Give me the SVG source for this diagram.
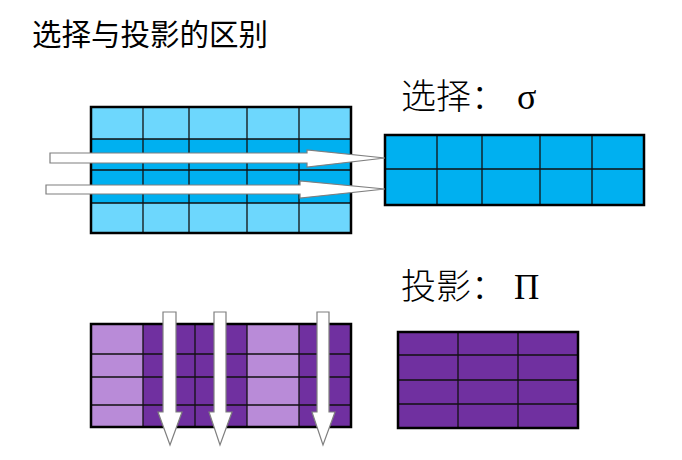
<svg xmlns="http://www.w3.org/2000/svg" width="682" height="460" viewBox="0 0 682 460">
<style>
.cjk{font-family:"Noto Sans CJK SC","Noto Sans CJK JP",sans-serif;fill:#000}
.ser{font-family:"Liberation Serif","DejaVu Serif",serif;fill:#000}
.outer{fill:none;stroke:#000;stroke-width:2.5}
.grid{stroke:#111;stroke-width:1.3;fill:none}
.arr{fill:#fff;stroke:#7f7f7f;stroke-width:1.2}
.lb{fill:#6dd7fd}
.db{fill:#00b0f0}
.lp{fill:#b98bd8}
.dp{fill:#7030a0}
</style>
<rect width="682" height="460" fill="#fff"/>
<text class="cjk" x="32" y="45" font-size="29.5" font-weight="400">选择与投影的区别</text>
<g id="sel-label"><text class="cjk" x="401" y="109" font-size="35" font-weight="300">选择：</text><text class="ser" x="517" y="109" font-size="36">σ</text></g>
<g id="proj-label"><text class="cjk" x="401" y="299" font-size="35" font-weight="300">投影：</text><text class="ser" x="514" y="299" font-size="35">Π</text></g>

<g id="table-sel-src">
<rect class="lb" x="91" y="107" width="260" height="32"/>
<rect class="db" x="91" y="139" width="260" height="64"/>
<rect class="lb" x="91" y="203" width="260" height="30"/>
<path class="grid" d="M143 107V233M189 107V233M247 107V233M299 107V233M91 139H351M91 170H351M91 203H351"/>
<rect class="outer" x="91" y="107" width="260" height="126"/>
</g>

<g id="table-sel-res">
<rect class="db" x="385" y="135" width="259" height="70"/>
<path class="grid" d="M437 135V205M482 135V205M540 135V205M592 135V205M385 169H644"/>
<rect class="outer" x="385" y="135" width="259" height="70"/>
</g>

<g id="table-proj-src">
<rect class="lp" x="91" y="324" width="52" height="103"/>
<rect class="dp" x="143" y="324" width="104" height="103"/>
<rect class="lp" x="247" y="324" width="52" height="103"/>
<rect class="dp" x="299" y="324" width="52" height="103"/>
<path class="grid" d="M143 324V427M195 324V427M247 324V427M299 324V427M91 354H351M91 377H351M91 405H351"/>
<rect class="outer" x="91" y="324" width="260" height="103"/>
</g>

<g id="table-proj-res">
<rect class="dp" x="398" y="332" width="180" height="96"/>
<path class="grid" d="M458 332V428M518 332V428M398 355H578M398 380H578M398 404H578"/>
<rect class="outer" x="398" y="332" width="180" height="96"/>
</g>

<g id="connectors">
<path class="arr" d="M50 153H307V150L385 158L307 167V163H50Z"/>
<path class="arr" d="M46 185H300V181L385 189L300 198V194H46Z"/>
<path class="arr" d="M163 312H176V412H182L170 445L158 412H163Z"/>
<path class="arr" d="M214 312H226V412H232L220 445L209 412H214Z"/>
<path class="arr" d="M317 312H329V412H335L323 445L312 412H317Z"/>
</g>
</svg>
